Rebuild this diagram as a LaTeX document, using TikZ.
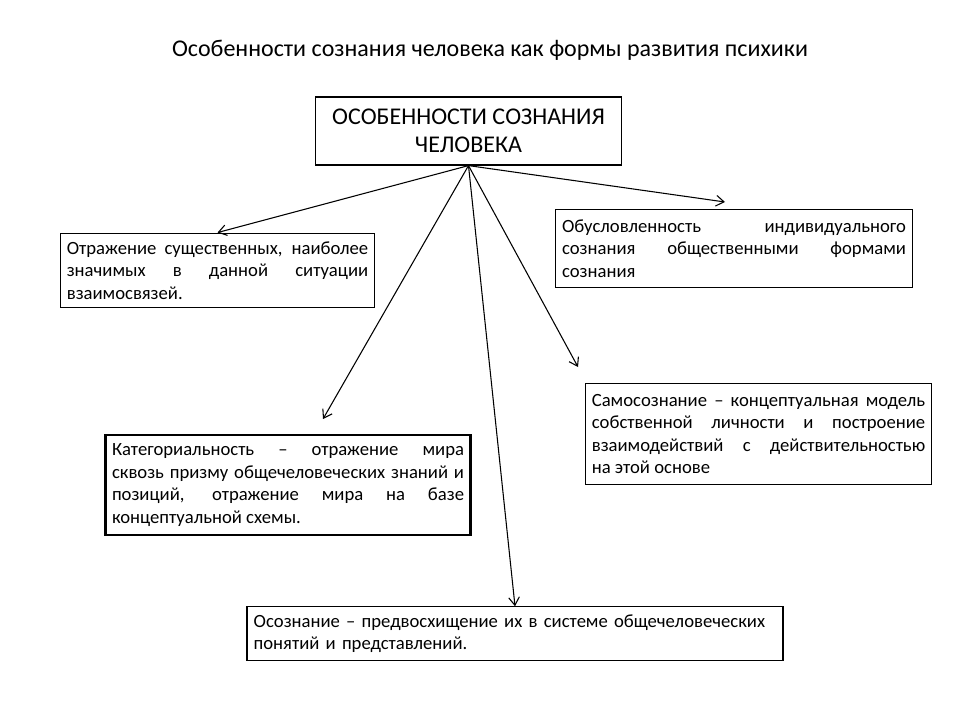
\documentclass[tikz,border=0pt]{standalone}
\usepackage{fontspec}
\setmainfont{Carlito}
\usetikzlibrary{arrows.meta}

\begin{document}
\begin{tikzpicture}[x=0.75pt, y=-0.75pt,
  box/.style={draw, line width=0.9pt, inner xsep=5pt, inner ysep=2pt, align=justify,
    font=\fontsize{14}{16.8}\selectfont},
  link/.style={line width=0.8pt, -{Straight Barb[length=6pt,width=8pt]}}]

\useasboundingbox (0,0) rectangle (960,720);

% ===== Title =====

\node[font=\fontsize{18}{21}\selectfont] (title) at (490,50)
  {Особенности сознания человека как формы развития психики};

% ===== Main box =====

\node[draw, line width=0.9pt, minimum width=230pt, minimum height=51pt, align=center,
  font=\fontsize{18}{21}\selectfont] (core) at (468.5,131)
  {ОСОБЕННОСТИ СОЗНАНИЯ\\ЧЕЛОВЕКА};

% ===== Features =====

\node[box, text width=226pt, minimum height=56pt] (otrazh) at (217.5,270.5)
  {Отражение существенных, наиболее\linebreak значимых в данной ситуации\linebreak взаимосвязей.};

\node[box, text width=258pt, minimum height=58pt] (obusl) at (734,248.5)
  {Обусловленность индивидуального\linebreak сознания общественными формами\linebreak сознания};

\node[box, line width=2.2pt, text width=264pt, minimum height=75pt] (kateg) at (288,485)
  {Категориальность – отражение мира\linebreak сквозь призму общечеловеческих знаний и\linebreak позиций, отражение мира на базе\linebreak концептуальной схемы.};

\node[box, text width=250pt, minimum height=76pt] (samo) at (758.5,434)
  {Самосознание – концептуальная модель\linebreak собственной личности и построение\linebreak взаимодействий с действительностью\linebreak на этой основе};

\node[box, align=left, text width=392pt, minimum height=40pt] (osozn) at (515,633.5)
  {Осознание – предвосхищение их в системе общечеловеческих\\понятий и представлений.};

% ===== Arrow ends =====

\coordinate (obusl-in) at (725,202);
\coordinate (kateg-in) at (323,419);
\coordinate (samo-in) at (578,367);

% ===== Links =====

\draw[link] (core.south) -- (otrazh.north);
\draw[link] (core.south) -- (obusl-in);
\draw[link] (core.south) -- (kateg-in);
\draw[link] (core.south) -- (samo-in);
\draw[link] (core.south) -- (osozn.north);

\end{tikzpicture}
\end{document}
